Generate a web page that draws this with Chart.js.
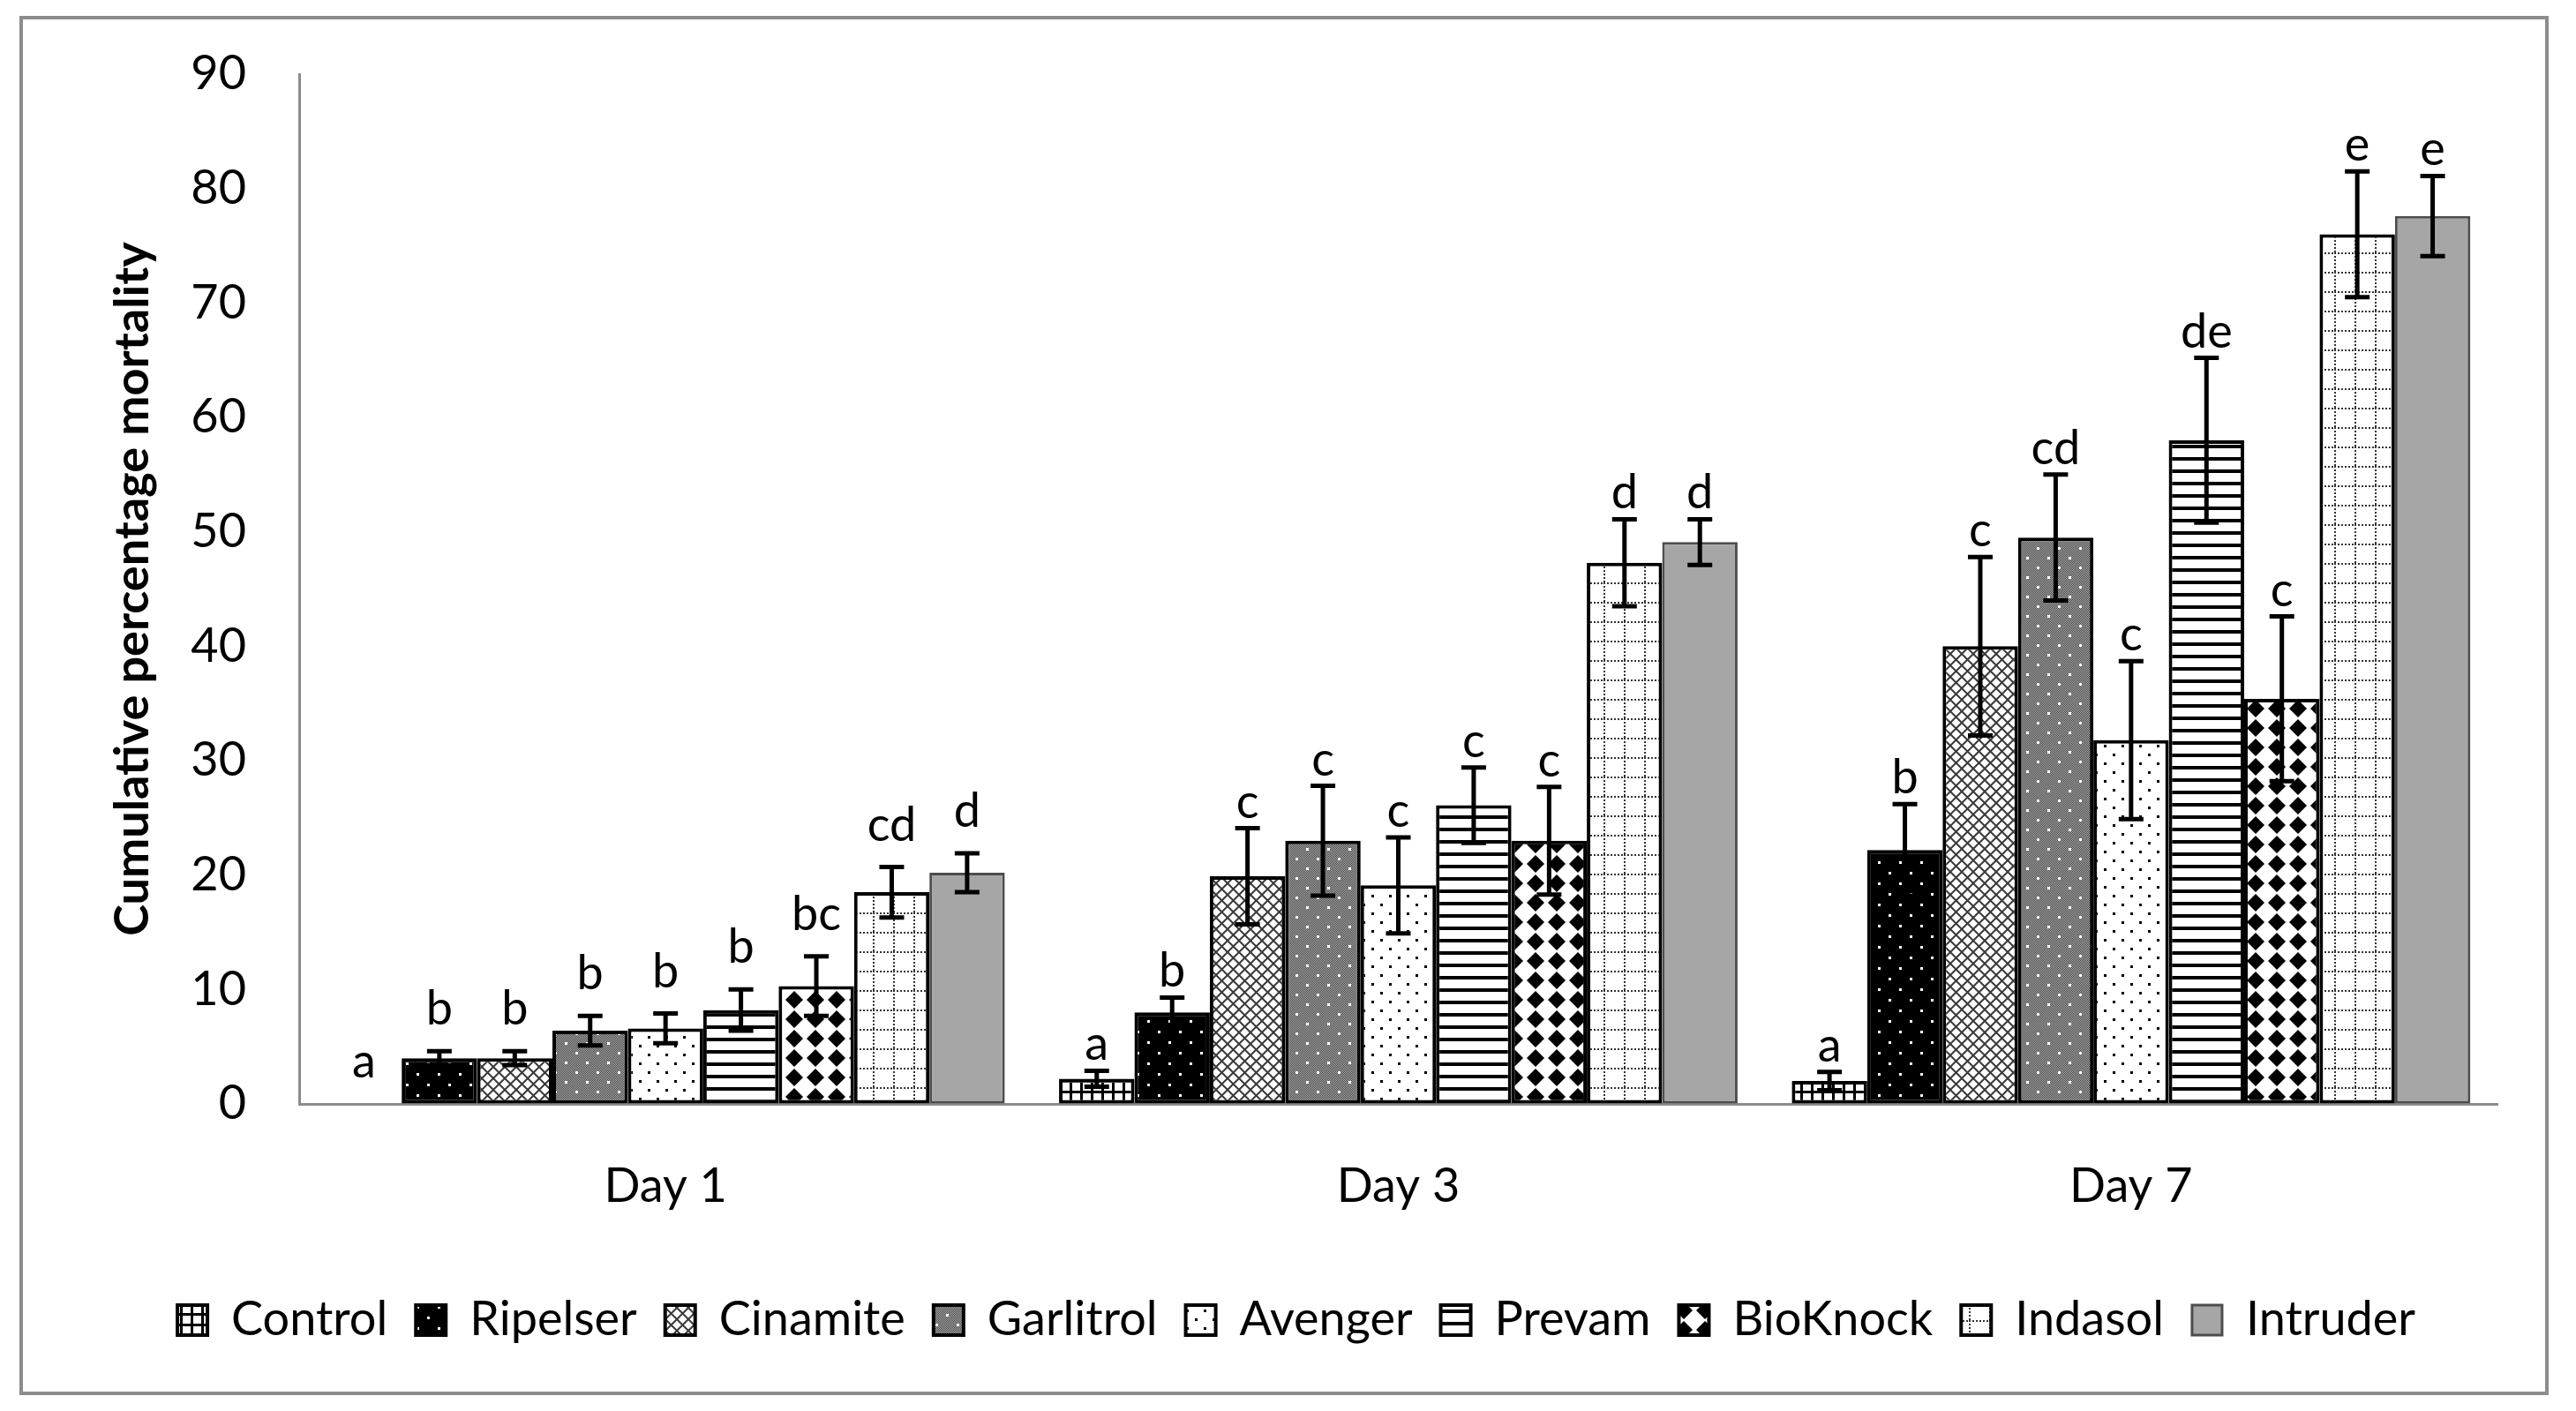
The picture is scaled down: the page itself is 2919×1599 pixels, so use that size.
<!DOCTYPE html>
<html>
<head>
<meta charset="utf-8">
<script src="https://cdn.jsdelivr.net/npm/chart.js@4.4.1/dist/chart.umd.min.js"></script>
<style>
  html, body { margin: 0; padding: 0; background: #fff; }
  #wrap { position: relative; width: 2919px; height: 1599px; }
  #frame { position: absolute; left: 22px; top: 18px; width: 2866px; height: 1563px; border: 4px solid #8c8c8c; box-sizing: border-box; }
  canvas { position: absolute; left: 0; top: 0; }
</style>
</head>
<body>
<div id="wrap">
  <div id="frame"></div>
  <canvas id="chart" width="2919" height="1599"></canvas>
</div>
<script>
// categories
const days = ['Day 1', 'Day 3', 'Day 7'];
const yTicks = [0, 10, 20, 30, 40, 50, 60, 70, 80, 90];

// mean cumulative mortality (%) per treatment, Day 1 / Day 3 / Day 7
const control   = [0,    2.2,  2.0];
const ripelser  = [4.0,  8.0,  22.2];
const cinamite  = [4.0,  19.9, 40.0];
const garlitrol = [6.4,  23.0, 49.5];
const avenger   = [6.6,  19.1, 31.8];
const prevam    = [8.2,  26.1, 58.0];
const bioknock  = [10.3, 23.0, 35.4];
const indasol   = [18.5, 47.3, 76.0];
const intruder  = [20.2, 49.1, 77.6];

// standard errors
const controlErr   = [0,   0.7, 0.8];
const ripelserErr  = [0.6, 1.3, 4.0];
const cinamiteErr  = [0.6, 4.2, 7.8];
const garlitrolErr = [1.3, 4.8, 5.5];
const avengerErr   = [1.3, 4.2, 6.9];
const prevamErr    = [1.8, 3.3, 7.2];
const bioknockErr  = [2.6, 4.7, 7.2];
const indasolErr   = [2.2, 3.8, 5.5];
const intruderErr  = [1.7, 2.0, 3.5];

// significance letters
const controlLet   = ['a', 'a', 'a'];
const ripelserLet  = ['b', 'b', 'b'];
const cinamiteLet  = ['b', 'c', 'c'];
const garlitrolLet = ['b', 'c', 'cd'];
const avengerLet   = ['b', 'c', 'c'];
const prevamLet    = ['b', 'c', 'de'];
const bioknockLet  = ['bc', 'c', 'c'];
const indasolLet   = ['cd', 'd', 'e'];
const intruderLet  = ['d', 'd', 'e'];

const FONT = 'Lato, "Open Sans", sans-serif';

function makePattern(w, h, draw) {
  const c = document.createElement('canvas');
  c.width = w; c.height = h;
  const g = c.getContext('2d');
  draw(g, w, h);
  return g.createPattern(c, 'repeat');
}

function diamond(g, cx, cy, rx, ry) {
  g.beginPath();
  g.moveTo(cx, cy - ry); g.lineTo(cx + rx, cy); g.lineTo(cx, cy + ry); g.lineTo(cx - rx, cy);
  g.closePath(); g.fill();
}

const patterns = {
  control: makePattern(12, 12, (g, w, h) => {
    g.fillStyle = '#fff'; g.fillRect(0, 0, w, h);
    g.fillStyle = '#000'; g.fillRect(0, 0, w, 3); g.fillRect(0, 0, 3, h);
  }),
  ripelser: makePattern(24, 24, (g, w, h) => {
    g.fillStyle = '#000'; g.fillRect(0, 0, w, h);
    g.fillStyle = '#fff'; g.fillRect(4, 4, 3, 3); g.fillRect(16, 16, 3, 3);
  }),
  cinamite: makePattern(13, 13, (g, w, h) => {
    g.fillStyle = '#fff'; g.fillRect(0, 0, w, h);
    g.strokeStyle = '#3a3a3a'; g.lineWidth = 2;
    g.beginPath();
    g.moveTo(0, 0); g.lineTo(w, h);
    g.moveTo(w, 0); g.lineTo(0, h);
    g.stroke();
  }),
  garlitrol: makePattern(24, 22, (g, w, h) => {
    for (let i = 0; i < w; i++) {
      for (let j = 0; j < h; j++) {
        g.fillStyle = (i + j) % 2 ? '#4a4a4a' : '#a8a8a8';
        g.fillRect(i, j, 1, 1);
      }
    }
    g.fillStyle = '#fff'; g.fillRect(4, 4, 3, 3); g.fillRect(16, 15, 3, 3);
  }),
  avenger: makePattern(20, 20, (g, w, h) => {
    g.fillStyle = '#fff'; g.fillRect(0, 0, w, h);
    g.fillStyle = '#000'; g.fillRect(4, 4, 3, 3); g.fillRect(14, 14, 3, 3);
  }),
  prevam: makePattern(14, 14, (g, w, h) => {
    g.fillStyle = '#fff'; g.fillRect(0, 0, w, h);
    g.fillStyle = '#000'; g.fillRect(0, 0, w, 4);
  }),
  bioknock: makePattern(24, 22, (g, w, h) => {
    g.fillStyle = '#fff'; g.fillRect(0, 0, w, h);
    g.fillStyle = '#000';
    diamond(g, 12, 11, 10, 10);
  }),
  indasol: makePattern(23, 22, (g, w, h) => {
    g.fillStyle = '#fff'; g.fillRect(0, 0, w, h);
    g.fillStyle = '#333';
    for (let x = 0; x < w - 1; x += 4) g.fillRect(x, 0, 2, 2);
    for (let y = 0; y < h - 1; y += 4) g.fillRect(0, y, 2, 2);
  }),
  intruder: '#a6a6a6'
};

function series(label, data, errors, letters, fill, border, bw) {
  return {
    label, data, errors, letters,
    backgroundColor: fill,
    borderColor: border || '#000',
    borderWidth: bw || 4,
    borderSkipped: false
  };
}

const datasets = [
  series('Control', control, controlErr, controlLet, patterns.control),
  series('Ripelser', ripelser, ripelserErr, ripelserLet, patterns.ripelser),
  series('Cinamite', cinamite, cinamiteErr, cinamiteLet, patterns.cinamite),
  series('Garlitrol', garlitrol, garlitrolErr, garlitrolLet, patterns.garlitrol),
  series('Avenger', avenger, avengerErr, avengerLet, patterns.avenger),
  series('Prevam', prevam, prevamErr, prevamLet, patterns.prevam),
  series('BioKnock', bioknock, bioknockErr, bioknockLet, patterns.bioknock),
  series('Indasol', indasol, indasolErr, indasolLet, patterns.indasol),
  series('Intruder', intruder, intruderErr, intruderLet, patterns.intruder, '#4d4d4d', 3)
];

// error bars + letters drawn on top of the bars
const errorBars = {
  id: 'errorBars',
  afterDatasetsDraw(chart) {
    const ctx = chart.ctx;
    const y = chart.scales.y;
    const gap = [30, 12, 12];
    ctx.save();
    ctx.strokeStyle = '#000';
    ctx.lineWidth = 5;
    ctx.fillStyle = '#000';
    ctx.font = '54px ' + FONT;
    ctx.textAlign = 'center';
    ctx.textBaseline = 'alphabetic';
    chart.data.datasets.forEach((ds, i) => {
      const meta = chart.getDatasetMeta(i);
      meta.data.forEach((bar, j) => {
        const v = ds.data[j], e = ds.errors[j];
        const top = y.getPixelForValue(v + e);
        const bot = y.getPixelForValue(v - e);
        if (e > 0) {
          ctx.beginPath();
          ctx.moveTo(bar.x, top); ctx.lineTo(bar.x, bot);
          ctx.moveTo(bar.x - 14, top); ctx.lineTo(bar.x + 14, top);
          ctx.moveTo(bar.x - 14, bot); ctx.lineTo(bar.x + 14, bot);
          ctx.stroke();
        }
        ctx.fillText(ds.letters[j], bar.x, top - gap[j]);
      });
    });
    ctx.restore();
  }
};

new Chart(document.getElementById('chart'), {
  type: 'bar',
  data: { labels: days, datasets },
  plugins: [errorBars],
  options: {
    responsive: false,
    animation: false,
    devicePixelRatio: 1,
    datasets: { bar: { categoryPercentage: 0.926, barPercentage: 1 } },
    layout: { padding: { left: 108, right: 89, top: 84, bottom: 66 } },
    plugins: {
      tooltip: { enabled: false },
      legend: {
        position: 'bottom',
        labels: {
          font: { family: FONT, size: 54 },
          color: '#000',
          boxWidth: 34,
          boxHeight: 34,
          padding: 32
        }
      }
    },
    scales: {
      x: {
        grid: { display: false, drawTicks: false },
        border: { display: true, color: '#8c8c8c', width: 3 },
        ticks: { font: { family: FONT, size: 54 }, color: '#000', padding: 61 },
        afterFit: s => { s.height = 186; }
      },
      y: {
        min: 0, max: 90,
        afterBuildTicks: s => { s.ticks = yTicks.map(v => ({ value: v })); },
        // invisible tick marks keep the labels away from the axis
        grid: {
          display: true, drawOnChartArea: false, drawTicks: true,
          tickLength: 60, color: 'rgba(0,0,0,0)', tickColor: 'rgba(0,0,0,0)'
        },
        border: { display: true, color: '#8c8c8c', width: 3 },
        ticks: { font: { family: FONT, size: 54 }, color: '#000', padding: 0 },
        title: {
          display: true,
          text: 'Cumulative percentage mortality',
          font: { family: FONT, size: 54, weight: 'bold' },
          color: '#000',
          padding: { top: 10, bottom: 0 }
        },
        afterFit: s => { s.width = 231; }
      }
    }
  }
});
</script>
</body>
</html>
